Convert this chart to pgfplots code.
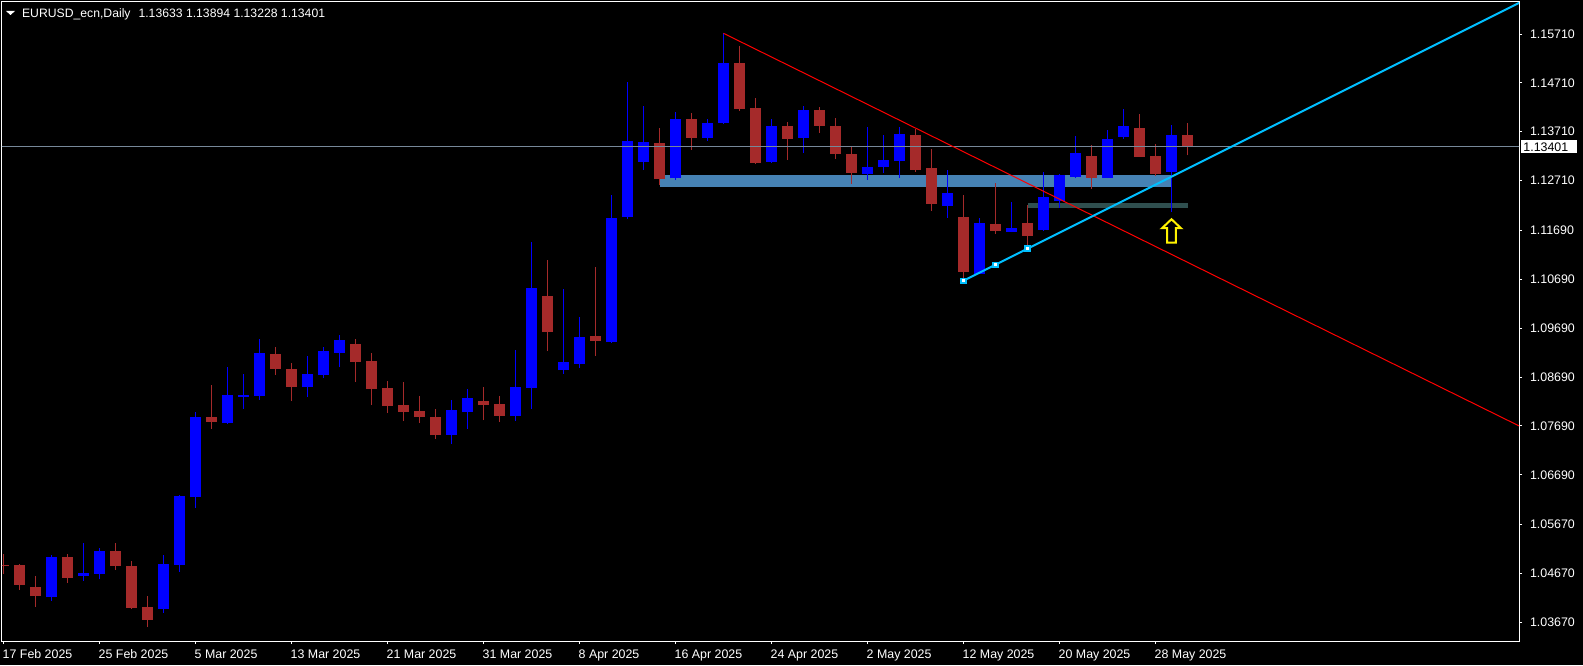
\documentclass[border=0pt]{standalone}
\usepackage{pgfplots}
\pgfplotsset{compat=1.18}
\usepackage{pgfplotstable}
\usepackage{fontspec}
\setmainfont{Liberation Sans}

\definecolor{bullc}{RGB}{0,0,255}
\definecolor{bearc}{RGB}{165,42,42}
\definecolor{bandc}{RGB}{70,130,180}
\definecolor{zonec}{RGB}{47,79,79}
\definecolor{rayc}{RGB}{0,191,255}
\definecolor{bidc}{RGB}{119,136,153}

% EURUSD daily candles, x = bar number from 17 Feb 2025
\pgfplotstableread{
x o h l c
3 1.04185 1.05039 1.04110 1.05004
5 1.04621 1.05291 1.04519 1.04677
6 1.04662 1.05188 1.04548 1.05127
10 1.03946 1.05045 1.03864 1.04861
11 1.04847 1.06273 1.04703 1.06253
12 1.06232 1.07972 1.06013 1.07870
14 1.07747 1.08893 1.07737 1.08320
15 1.08279 1.08750 1.08034 1.08320
16 1.08300 1.09467 1.08224 1.09180
19 1.08484 1.09125 1.08279 1.08750
20 1.08730 1.09303 1.08668 1.09221
21 1.09180 1.09549 1.08893 1.09446
28 1.07502 1.08218 1.07317 1.08013
29 1.07972 1.08443 1.07624 1.08259
32 1.07890 1.09241 1.07788 1.08484
33 1.08464 1.11452 1.08034 1.10511
35 1.08832 1.10490 1.08750 1.08996
36 1.08955 1.09917 1.08873 1.09508
38 1.09405 1.12414 1.09395 1.11944
39 1.11964 1.14727 1.11923 1.13520
40 1.13096 1.14236 1.12932 1.13499
42 1.12762 1.14113 1.12721 1.13970
44 1.13587 1.13970 1.13526 1.13888
45 1.13888 1.15724 1.13878 1.15116
48 1.13096 1.13970 1.13076 1.13827
50 1.13587 1.14236 1.13280 1.14154
54 1.12850 1.13806 1.12728 1.12987
55 1.12994 1.13643 1.12871 1.13131
56 1.13110 1.13806 1.12768 1.13669
59 1.12195 1.12926 1.11950 1.12455
61 1.10803 1.11944 1.10797 1.11841
63 1.11663 1.12271 1.11657 1.11739
65 1.11704 1.12885 1.11683 1.12373
66 1.12292 1.12844 1.12154 1.12824
67 1.12789 1.13622 1.12768 1.13274
69 1.12768 1.13745 1.12762 1.13561
70 1.13608 1.14175 1.13567 1.13827
73 1.12891 1.13847 1.12072 1.13633
}\bullbars

\pgfplotstableread{
x o h l c
0 1.04840 1.05066 1.04656 1.04820
1 1.04840 1.04861 1.04335 1.04437
2 1.04390 1.04609 1.03987 1.04212
4 1.05004 1.05059 1.04478 1.04580
7 1.05127 1.05291 1.04744 1.04826
8 1.04820 1.04922 1.03946 1.03966
9 1.03981 1.04206 1.03571 1.03721
13 1.07870 1.08525 1.07630 1.07774
17 1.09160 1.09303 1.08730 1.08853
18 1.08853 1.08975 1.08198 1.08484
22 1.09364 1.09467 1.08586 1.08996
23 1.09016 1.09180 1.08116 1.08443
24 1.08464 1.08607 1.07958 1.08095
25 1.08116 1.08586 1.07788 1.07972
26 1.07993 1.08300 1.07747 1.07870
27 1.07870 1.08034 1.07420 1.07502
30 1.08198 1.08484 1.07809 1.08116
31 1.08136 1.08300 1.07768 1.07890
34 1.10347 1.11084 1.09221 1.09610
37 1.09528 1.10940 1.09119 1.09426
41 1.13479 1.13792 1.12619 1.12742
43 1.13970 1.14093 1.13342 1.13587
46 1.15116 1.15464 1.14140 1.14181
47 1.14195 1.14400 1.13055 1.13076
49 1.13827 1.13909 1.13137 1.13567
51 1.14154 1.14216 1.13690 1.13833
52 1.13827 1.13991 1.13157 1.13260
53 1.13254 1.13397 1.12646 1.12871
57 1.13643 1.13765 1.12891 1.12932
58 1.12967 1.13356 1.12093 1.12236
60 1.11964 1.12414 1.10701 1.10844
62 1.11821 1.12660 1.11616 1.11677
64 1.11841 1.12210 1.11356 1.11581
68 1.13213 1.13438 1.12543 1.12768
71 1.13786 1.14072 1.13192 1.13198
72 1.13213 1.13458 1.12809 1.12850
74 1.13633 1.13894 1.13228 1.13401
}\bearbars

\begin{document}
\begin{tikzpicture}[font=\fontsize{6.2}{7}\selectfont]
\fill[black] (0,0) rectangle (791.5pt,332.5pt);

\begin{axis}[
    at={(1pt,12pt)}, anchor=south west,
    scale only axis, width=758.5pt, height=319.5pt,
    xmin=-0.094, xmax=94.72,
    ymin=1.03287, ymax=1.16365,
    axis line style={white, line width=0.5pt},
    tick style={white, line width=0.5pt},
    tick align=outside, major tick length=1.5pt,
    xtick pos=bottom, ytick pos=right, yticklabel pos=right,
    xtick={0,6,...,72},
    xticklabels={17 Feb 2025,25 Feb 2025,5 Mar 2025,13 Mar 2025,21 Mar 2025,31 Mar 2025,8 Apr 2025,16 Apr 2025,24 Apr 2025,2 May 2025,12 May 2025,20 May 2025,28 May 2025},
    ytick={1.0367,1.0467,1.0567,1.0669,1.0769,1.0869,1.0969,1.1069,1.1169,1.1271,1.1371,1.1471,1.1571},
    yticklabels={1.03670,1.04670,1.05670,1.06690,1.07690,1.08690,1.09690,1.10690,1.11690,1.12710,1.13710,1.14710,1.15710},
    ticklabel style={text=white},
    xticklabel style={anchor=north west, inner sep=0pt, xshift=-0.6pt, yshift=-2.8pt},
    yticklabel style={anchor=west, inner sep=0pt, xshift=3.8pt},
  ]
  % zones
  \addplot[draw=none, fill=bandc] coordinates {(41,1.12584) (73,1.12584) (73,1.12824) (41,1.12824)} --cycle;
  \addplot[draw=none, fill=zonec] coordinates {(64,1.12148) (74,1.12148) (74,1.12251) (64,1.12251)} --cycle;

  % wicks
  \addplot[draw=none, error bars/.cd, y dir=plus, y explicit, error mark=none,
    error bar style={line width=0.5pt, draw=bullc}]
    table[x=x, y=l, y error plus expr=\thisrow{h}-\thisrow{l}] {\bullbars};
  \addplot[draw=none, error bars/.cd, y dir=plus, y explicit, error mark=none,
    error bar style={line width=0.5pt, draw=bearc}]
    table[x=x, y=l, y error plus expr=\thisrow{h}-\thisrow{l}] {\bearbars};
  % bodies
  \addplot[draw=none, error bars/.cd, y dir=plus, y explicit, error mark=none,
    error bar style={line width=5.5pt, draw=bullc}]
    table[x=x, y=o, y error plus expr=\thisrow{c}-\thisrow{o}] {\bullbars};
  \addplot[draw=none, error bars/.cd, y dir=plus, y explicit, error mark=none,
    error bar style={line width=5.5pt, draw=bearc}]
    table[x=x, y=c, y error plus expr=\thisrow{o}-\thisrow{c}] {\bearbars};

  % bid line
  \addplot[bidc, line width=0.5pt] coordinates {(-1,1.13401) (96,1.13401)};
  % trend lines
  \addplot[red, line width=0.5pt] coordinates {(45,1.15724) (96,1.07483)};
  \addplot[rayc, line width=1pt] coordinates {(60,1.10661) (96,1.16555)};
  \addplot[only marks, mark=square*, mark size=1.4pt, mark options={draw=rayc, fill=rayc}]
    coordinates {(60,1.10661) (62,1.10988) (64,1.11316)};
  \addplot[only marks, mark=square*, mark size=0.45pt, mark options={draw=white, fill=white}]
    coordinates {(60,1.10661) (62,1.10988) (64,1.11316)};

  \coordinate (bid) at (axis cs:94.72,1.13401);
  \coordinate (arr) at (axis cs:73,1.11950);
\end{axis}

% header line
\fill[white] (3pt,327pt) -- (7.5pt,327pt) -- (5.25pt,325pt) -- cycle;
\node[anchor=base west, inner sep=0pt, text=white, font=\fontsize{6.1}{7}\selectfont]
  at (10.85pt,323.65pt) {EURUSD\_ecn,Daily\hspace{4pt}1.13633 1.13894 1.13228 1.13401};

\node[fill=white, text=black, anchor=west, inner xsep=1.15pt, inner ysep=0pt,
  minimum height=6.65pt, text width=25.7pt] at ([xshift=0.85pt]bid) {1.13401};

\draw[yellow, line width=1pt, line join=miter]
  ([yshift=-0.75pt]arr) -- ++(4.75pt,-4.5pt) -- ++(-2.55pt,0) -- ++(0,-7.25pt)
  -- ++(-4.4pt,0) -- ++(0,7.25pt) -- ++(-2.55pt,0) -- cycle;
\end{tikzpicture}
\end{document}
